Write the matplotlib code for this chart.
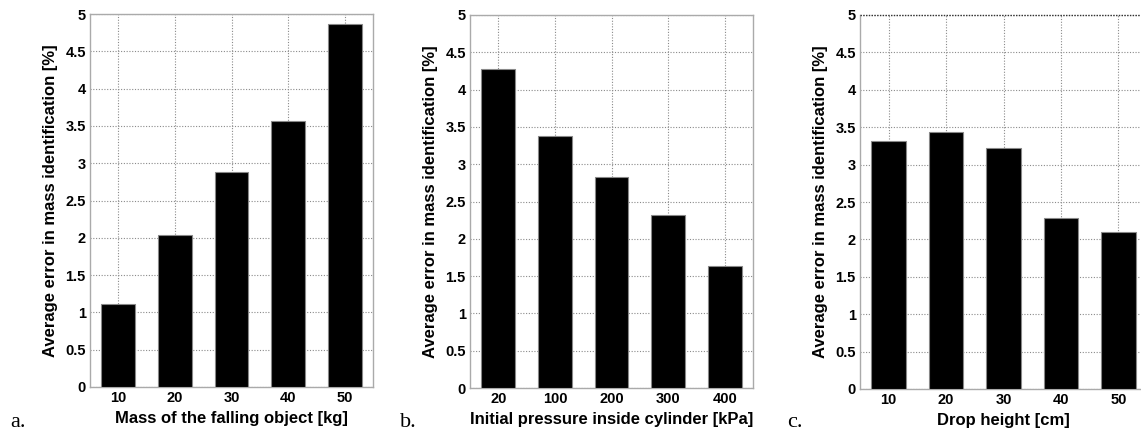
import matplotlib
matplotlib.use("Agg")
import matplotlib.pyplot as plt
import numpy as np

mass_labels = ["10", "20", "30", "40", "50"]
mass_err = [1.11, 2.04, 2.88, 3.57, 4.86]

press_labels = ["20", "100", "200", "300", "400"]
press_err = [4.28, 3.38, 2.83, 2.32, 1.64]

height_labels = ["10", "20", "30", "40", "50"]
height_err = [3.32, 3.44, 3.22, 2.29, 2.10]

xlabels = ["Mass of the falling object [kg]",
           "Initial pressure inside cylinder [kPa]",
           "Drop height [cm]"]
panel_tags = ["a.", "b.", "c."]
ylabel = "Average error in mass identification [%]"
yticks = [0, 0.5, 1, 1.5, 2, 2.5, 3, 3.5, 4, 4.5, 5]
ytick_labels = ["0", "0.5", "1", "1.5", "2", "2.5", "3", "3.5", "4", "4.5", "5"]

W, H = 1141, 433
fig = plt.figure(figsize=(W / 100, H / 100), dpi=100)

boxes = [(90, 14, 283, 373), (470, 15, 283, 373), (860, 15, 287, 374)]
tag_x = [10, 400, 787]
datasets = [(mass_labels, mass_err), (press_labels, press_err), (height_labels, height_err)]

for i, ((labs, vals), (x0, y0, w, h)) in enumerate(zip(datasets, boxes)):
    ax = fig.add_axes([x0 / W, 1 - (y0 + h) / H, w / W, h / H])
    pos = np.arange(1, len(vals) + 1)
    ax.bar(pos, vals, width=0.6, color="black", edgecolor="#888888", linewidth=0.8, zorder=3)
    ax.set_xlim(0.5, len(vals) + 0.5)
    ax.set_ylim(0, 5)
    ax.set_xticks(pos)
    ax.set_xticklabels(labs, fontfamily="Liberation Sans", fontweight="bold", fontsize=10.5)
    ax.set_yticks(yticks)
    ax.set_yticklabels(ytick_labels, fontfamily="Liberation Sans", fontweight="bold", fontsize=10.5)
    ax.tick_params(length=0, pad=3)
    ax.grid(True, linestyle=(0, (1, 1.5)), color="#8a8a8a", linewidth=0.8, zorder=0)
    for s in ax.spines.values():
        s.set_color("#aaaaaa")
        s.set_linewidth(1.0)
    if i == 2:
        ax.spines["top"].set_visible(False)
        ax.axhline(5, color="#333333", linestyle=(0, (1, 1)), linewidth=1.0, zorder=4, clip_on=False)
    ax.set_xlabel(xlabels[i], fontfamily="Liberation Sans", fontweight="bold", fontsize=12, labelpad=4)
    ax.set_ylabel(ylabel, fontfamily="Liberation Sans", fontweight="bold", fontsize=12, labelpad=5)
    fig.text(tag_x[i] / W, 1 - 427 / H, panel_tags[i], fontfamily="Liberation Serif",
             fontsize=16, ha="left", va="baseline")

fig.savefig("out.png", dpi=100)
